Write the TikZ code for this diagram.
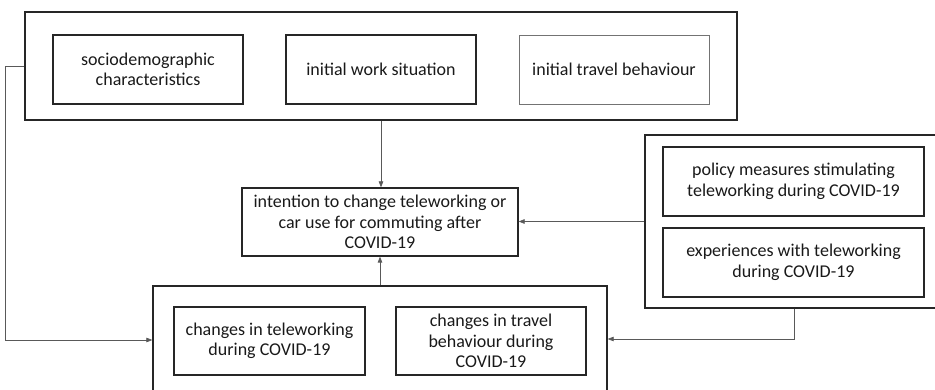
\documentclass[tikz,border=0pt]{standalone}
\usepackage{fontspec}
\setmainfont{Carlito}
\usetikzlibrary{arrows.meta,calc}

\tikzset{
  frame/.style={draw=black!85, line width=1.3pt, inner sep=0pt},
  item/.style={draw=black!85, line width=1.2pt, inner sep=0pt, align=center,
    minimum width=190pt, minimum height=69pt,
    font=\fontsize{18pt}{20.5pt}\selectfont, text=black!90},
  lightitem/.style={item, draw=black!55, line width=0.8pt},
  link/.style={draw=black!65, line width=0.7pt,
    -{Triangle[length=6pt,width=4.5pt]}},
}

\begin{document}
\begin{tikzpicture}[x=1pt,y=-1pt]
  \useasboundingbox (0,0) rectangle (935,390);
  \clip (0,0) rectangle (935,390);

  % background factors
  \node[frame, minimum width=712pt, minimum height=108pt] (top) at (381,66) {};
  \node[item] (socio) at (148,69.5) {sociodemographic\\characteristics};
  \node[item] (work) at (381,69.5) {initial work situation};
  \node[lightitem] (travel) at (614,69.5) {initial travel behaviour};

  % outcome
  \node[item, minimum width=276pt, minimum height=68pt] (intent) at (380,222)
    {intention to change teleworking or\\car use for commuting after\\COVID-19};

  % changes during the pandemic
  \node[frame, minimum width=454pt, minimum height=108pt] (bottom) at (380,340) {};
  \node[item, minimum width=191pt, minimum height=68pt] (tele) at (269.5,341)
    {changes in teleworking\\during COVID-19};
  \node[item, minimum height=68pt] (tchg) at (491,341)
    {changes in travel\\behaviour during\\COVID-19};

  % policy and experiences
  \node[frame, minimum width=298pt, minimum height=173pt] (rbox) at (794,221.5) {};
  \node[item, minimum width=261pt] (policy) at (793.5,181.5)
    {policy measures stimulating\\teleworking during COVID-19};
  \node[item, minimum width=261pt] (exper) at (793.5,262.5)
    {experiences with teleworking\\during COVID-19};

  % connectors
  \coordinate (lbend) at (5,0);
  \coordinate (rbend) at (0,339);
  \draw[link] (top.south) -- (top.south |- intent.north);
  \draw[link] (bottom.north) -- (intent.south);
  \draw[link] (rbox.west) -- (rbox.west -| intent.east);
  \draw[link] (rbox.south) |- (rbend -| bottom.east);
  \draw[link] (top.west) -| (lbend |- bottom.west) -- (bottom.west);
\end{tikzpicture}
\end{document}
